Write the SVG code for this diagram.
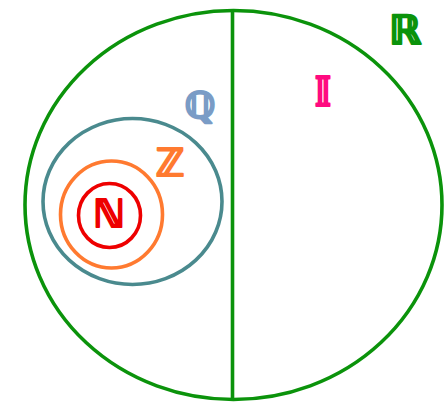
<svg xmlns="http://www.w3.org/2000/svg" width="444" height="402" viewBox="0 0 444 402">
<style>
.set{fill:none;stroke-width:3.6}
.lbl{font-family:"DejaVu Serif","DejaVu Sans",serif;font-weight:bold;text-anchor:middle;stroke-width:2.2;stroke-linejoin:round}
</style>
<rect width="444" height="402" fill="#fff"/>
<g id="R">
<ellipse class="set" cx="233.5" cy="205" rx="208.5" ry="194.5" stroke="#0b930b"/>
<text class="lbl" x="405" y="44" font-size="40" fill="#0b930b" stroke="#0b930b">ℝ</text>
</g>
<g id="connectors">
<line x1="232.5" y1="10" x2="232.5" y2="400" stroke="#0b930b" stroke-width="3.6"/>
</g>
<g id="I">
<text class="lbl" x="323" y="106" font-size="40" fill="#ff0a80" stroke="#ff0a80">𝕀</text>
</g>
<g id="Q">
<ellipse class="set" cx="132.5" cy="201.5" rx="89.5" ry="83" stroke="#4a8a8e"/>
<text class="lbl" x="200" y="118" font-size="36" fill="#7a9cc6" stroke="#7a9cc6">ℚ</text>
</g>
<g id="Z">
<ellipse class="set" cx="111.5" cy="214.5" rx="51" ry="53.5" stroke="#ff7a30"/>
<text class="lbl" x="170" y="176" font-size="38" fill="#ff7a30" stroke="#ff7a30">ℤ</text>
</g>
<g id="N">
<ellipse class="set" cx="109.5" cy="215.5" rx="31" ry="32" stroke="#ee0000"/>
<text class="lbl" x="109" y="227" font-size="38" fill="#ee0000" stroke="#ee0000">ℕ</text>
</g>
</svg>
